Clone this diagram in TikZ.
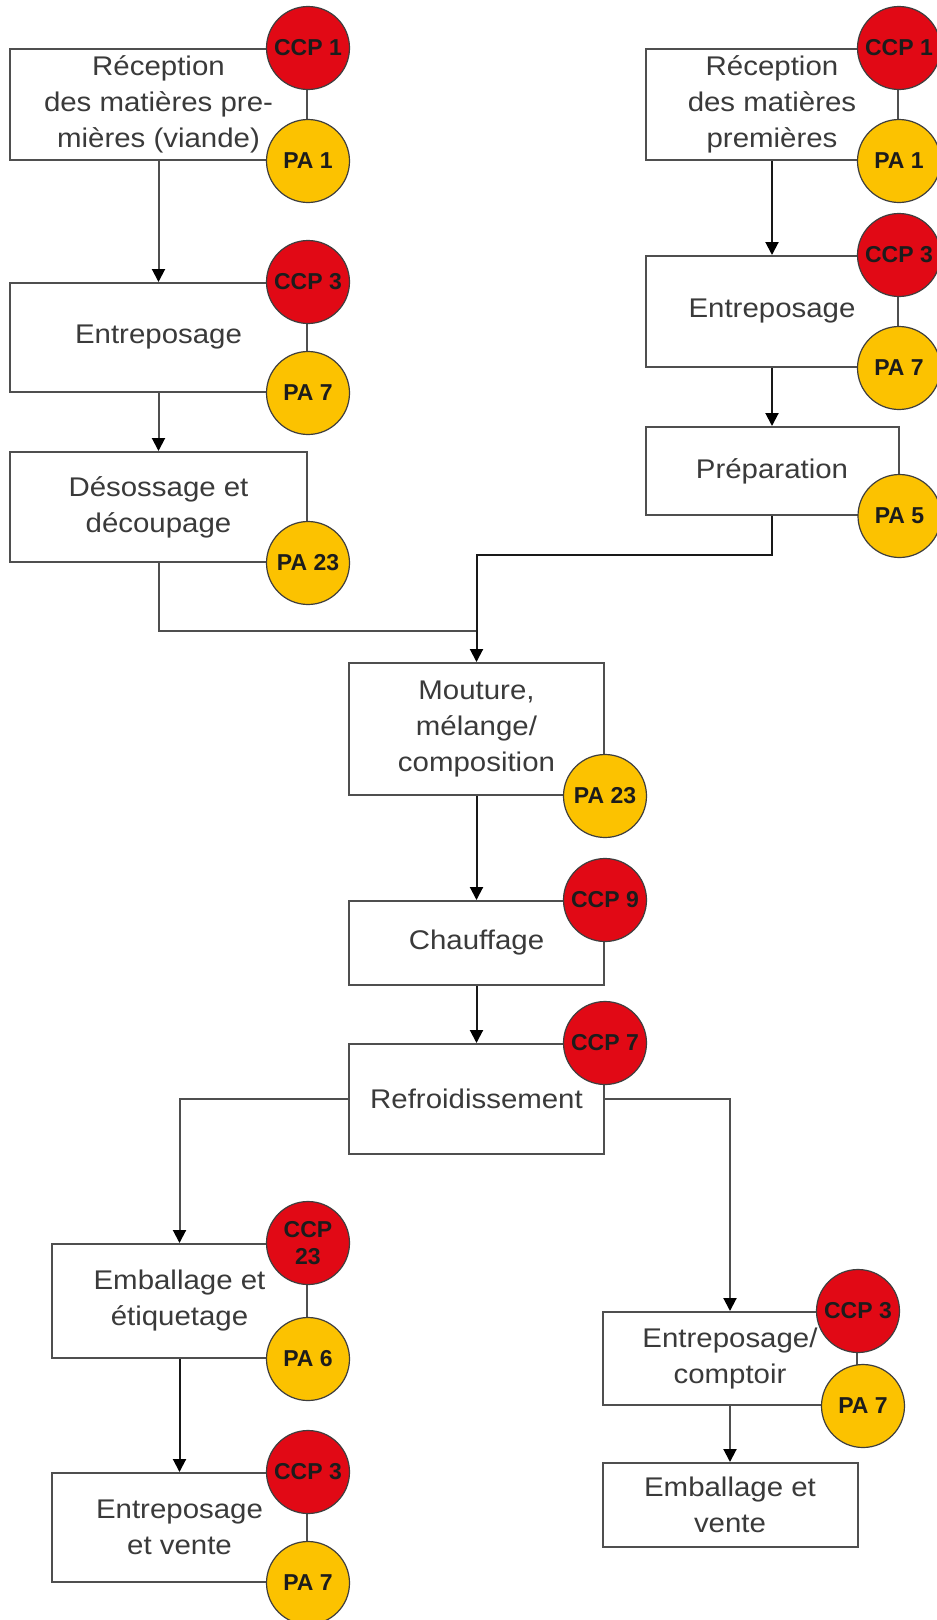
\documentclass[tikz,border=0pt]{standalone}
\usepackage{fontspec}
\setmainfont{Liberation Sans}
\newfontfamily\boxfont{Liberation Sans}[FakeStretch=1.09]
\usetikzlibrary{arrows.meta,calc}
\definecolor{ccpred}{HTML}{E10915}
\definecolor{payellow}{HTML}{FCC200}
\definecolor{edge}{HTML}{4F4F4F}
\definecolor{ink}{HTML}{3A3A3A}
\definecolor{dotink}{HTML}{1C1C1C}
\begin{document}
\begin{tikzpicture}[x=1pt,y=-1pt,
  stepbox/.style={draw=edge, line width=2pt, fill=white, inner sep=0pt,
    align=center, text=ink, font=\boxfont\fontsize{27}{36}\selectfont},
  dot/.style={circle, draw=dotink!85, line width=1.2pt, minimum size=83pt,
    inner sep=0pt, align=center, text=dotink,
    font=\bfseries\fontsize{23}{27}\selectfont},
  ccp/.style={dot, fill=ccpred},
  pa/.style={dot, fill=payellow},
  link/.style={draw=edge, line width=2pt},
  flow/.style={link, -{Triangle[width=13pt,length=13pt,color=black]}},
  mainflow/.style={flow, draw=black!90}
]
\useasboundingbox (0,0) rectangle (937,1620);
\fill[white] (0,0) rectangle (937,1620);

% meat branch
\node[stepbox, minimum width=297pt, minimum height=111pt] (b1) at (158.5,104.5)
  {Réception\\des matières pre-\\mières (viande)};
\node[stepbox, minimum width=297pt, minimum height=109pt] (b2) at (158.5,337.5)
  {Entreposage};
\node[stepbox, minimum width=297pt, minimum height=110pt] (b3) at (158.5,507)
  {Désossage et\\découpage};

% other raw materials branch
\node[stepbox, minimum width=252pt, minimum height=111pt] (r1) at (772,104.5)
  {Réception\\des matières\\premières};
\node[stepbox, minimum width=252pt, minimum height=111pt] (r2) at (772,311.5)
  {Entreposage};
\node[stepbox, minimum width=253pt, minimum height=88pt] (r3) at (772,471)
  {Préparation};

% common processing
\node[stepbox, minimum width=255pt, minimum height=132pt] (m1) at (476.5,729)
  {Mouture,\\mélange/\\composition};
\node[stepbox, minimum width=255pt, minimum height=84pt] (m2) at (476.5,943)
  {Chauffage};
\node[stepbox, minimum width=255pt, minimum height=110pt] (m3) at (476.5,1099)
  {Refroidissement};

% packed products
\node[stepbox, minimum width=255pt, minimum height=114pt] (e1) at (179.5,1301)
  {Emballage et\\étiquetage};
\node[stepbox, minimum width=255pt, minimum height=109pt] (e2) at (179.5,1527.5)
  {Entreposage\\et vente};

% counter sale
\node[stepbox, minimum width=254pt, minimum height=93pt] (c1) at (730,1358.5)
  {Entreposage/\\comptoir};
\node[stepbox, minimum width=255pt, minimum height=84pt] (c2) at (730,1505)
  {Emballage et\\vente};

% junction points
\coordinate (mergeL) at (476.5,631);
\coordinate (mergeR) at (476.5,555);

% connectors
\draw[flow] (b1.south) -- (b2.north);
\draw[flow] (b2.south) -- (b3.north);
\draw[mainflow] (r1.south) -- (r2.north);
\draw[mainflow] (r2.south) -- (r3.north);
\draw[link] (b3.south) |- (mergeL);
\draw[mainflow] (r3.south) |- (mergeR) -- (m1.north);
\draw[mainflow] (m1.south) -- (m2.north);
\draw[mainflow] (m2.south) -- (m3.north);
\draw[flow] (m3.west) -| (e1.north);
\draw[flow] (m3.east) -| (c1.north);
\draw[mainflow] (e1.south) -- (e2.north);
\draw[flow] (c1.south) -- (c2.north);

% control points and prerequisites
\node[ccp] (k1) at (b1.north east) {CCP 1};
\node[pa]  (p1) at (b1.south east) {PA 1};
\node[ccp] (k2) at (b2.north east) {CCP 3};
\node[pa]  (p2) at (b2.south east) {PA 7};
\node[pa]  (p3) at (b3.south east) {PA 23};

\node[ccp] (k4) at (r1.north east) {CCP 1};
\node[pa]  (p4) at (r1.south east) {PA 1};
\node[ccp] (k5) at (r2.north east) {CCP 3};
\node[pa]  (p5) at (r2.south east) {PA 7};
\node[pa]  (p6) at (r3.south east) {PA 5};

\node[pa]  (p7) at (m1.south east) {PA 23};
\node[ccp] (k8) at (m2.north east) {CCP 9};
\node[ccp] (k9) at (m3.north east) {CCP 7};

\node[ccp] (k10) at (e1.north east) {CCP\\23};
\node[pa]  (p10) at (e1.south east) {PA 6};
\node[ccp] (k11) at (e2.north east) {CCP 3};
\node[pa]  (p11) at (e2.south east) {PA 7};

\node[ccp] (k12) at (c1.north east) {CCP 3};
\node[pa]  (p12) at ($(c1.south east)+(5,0)$) {PA 7};
\end{tikzpicture}
\end{document}
